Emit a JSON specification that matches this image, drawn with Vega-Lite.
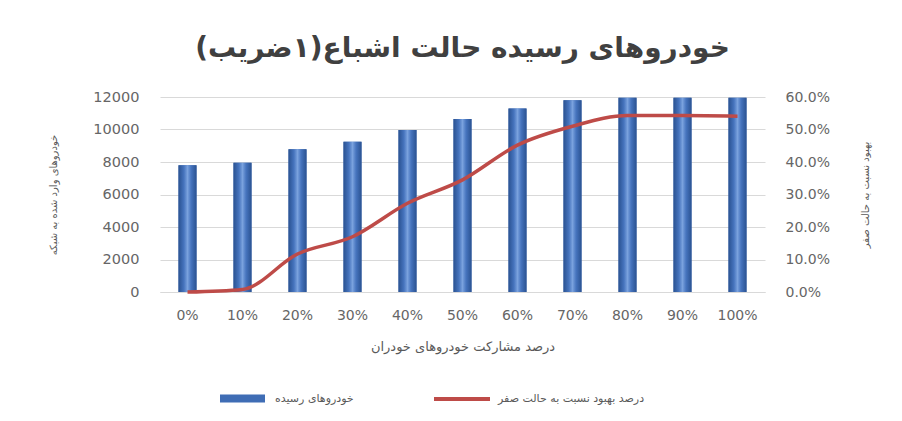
{
  "$schema": "https://vega.github.io/schema/vega-lite/v6.json",
  "width": 605,
  "height": 195,
  "autosize": {"type": "none"},
  "padding": {"left": 160, "top": 97, "right": 137, "bottom": 129},
  "background": "white",
  "title": {
    "text": "خودروهای رسیده حالت اشباع(۱ضریب)",
    "font": "DejaVu Sans",
    "fontSize": 28,
    "fontWeight": "bold",
    "color": "#404040",
    "anchor": "middle",
    "offset": 26
  },
  "data": {
    "values": [
      {"p": "0%", "cars": 7800, "improve": 0.0},
      {"p": "10%", "cars": 7950, "improve": 0.008},
      {"p": "20%", "cars": 8780, "improve": 0.117},
      {"p": "30%", "cars": 9250, "improve": 0.17},
      {"p": "40%", "cars": 9970, "improve": 0.273},
      {"p": "50%", "cars": 10650, "improve": 0.345},
      {"p": "60%", "cars": 11300, "improve": 0.452},
      {"p": "70%", "cars": 11800, "improve": 0.51},
      {"p": "80%", "cars": 11950, "improve": 0.543},
      {"p": "90%", "cars": 11950, "improve": 0.543},
      {"p": "100%", "cars": 11950, "improve": 0.541}
    ]
  },
  "encoding": {
    "x": {
      "field": "p",
      "type": "ordinal",
      "sort": null,
      "scale": {"paddingInner": 0, "paddingOuter": 0},
      "axis": {
        "title": "درصد مشارکت خودروهای خودران",
        "titleFont": "DejaVu Sans",
        "titleFontSize": 13,
        "titleFontWeight": "normal",
        "titleColor": "#595959",
        "titlePadding": 18,
        "labelAngle": 0,
        "labelFont": "DejaVu Sans",
        "labelFontSize": 14,
        "labelColor": "#666666",
        "labelPadding": 16,
        "ticks": false,
        "domainColor": "#D9D9D9",
        "grid": false
      }
    }
  },
  "layer": [
    {
      "mark": {"type": "bar", "size": 18},
      "encoding": {
        "y": {
          "field": "cars",
          "type": "quantitative",
          "scale": {"domain": [0, 12000]},
          "axis": {
            "title": "خودروهای وارد شده به شبکه",
            "titleFont": "DejaVu Sans",
            "titleFontSize": 10,
            "titleFontWeight": "normal",
            "titleColor": "#595959",
            "titleAngle": -90,
            "titlePadding": 34,
            "values": [0, 2000, 4000, 6000, 8000, 10000, 12000],
            "format": "d",
            "labelFont": "DejaVu Sans",
            "labelFontSize": 14.5,
            "labelColor": "#666666",
            "labelPadding": 21,
            "ticks": false,
            "domain": false,
            "grid": true,
            "gridColor": "#D9D9D9",
            "gridWidth": 1
          }
        },
        "fill": {
          "datum": "خودروهای رسیده",
          "scale": {"range": ["#3F6DB5"]},
          "legend": {
            "orient": "none",
            "legendX": 60,
            "legendY": 279,
            "title": null,
            "symbolType": "M-1,-0.18H1V0.18H-1Z",
            "symbolSize": 2025,
            "symbolStrokeWidth": 0,
            "labelFont": "DejaVu Sans",
            "labelFontSize": 11,
            "labelColor": "#595959",
            "labelOffset": 10
          }
        }
      }
    },
    {
      "mark": {
        "type": "bar",
        "size": 18,
        "color": {
          "gradient": "linear",
          "x1": 0, "y1": 0, "x2": 1, "y2": 0,
          "stops": [
            {"offset": 0, "color": "#2A5291"},
            {"offset": 0.3, "color": "#4674BE"},
            {"offset": 0.5, "color": "#7AA2DE"},
            {"offset": 0.7, "color": "#4674BE"},
            {"offset": 1, "color": "#2A5291"}
          ]
        }
      },
      "encoding": {
        "y": {"field": "cars", "type": "quantitative", "scale": {"domain": [0, 12000]}, "axis": null}
      }
    },
    {
      "mark": {"type": "line", "strokeWidth": 3.5, "interpolate": "monotone"},
      "encoding": {
        "y": {
          "field": "improve",
          "type": "quantitative",
          "scale": {"domain": [0, 0.6]},
          "axis": {
            "orient": "right",
            "title": "بهبود نسبت به حالت صفر",
            "titleFont": "DejaVu Sans",
            "titleFontSize": 10,
            "titleFontWeight": "normal",
            "titleColor": "#595959",
            "titleAngle": -90,
            "titlePadding": 41,
            "values": [0, 0.1, 0.2, 0.3, 0.4, 0.5, 0.6],
            "format": ".1%",
            "labelFont": "DejaVu Sans",
            "labelFontSize": 14,
            "labelColor": "#666666",
            "labelPadding": 20,
            "ticks": false,
            "domain": false,
            "grid": false
          }
        },
        "stroke": {
          "datum": "درصد بهبود نسبت به حالت صفر",
          "scale": {"range": ["#BE4B48"]},
          "legend": {
            "orient": "none",
            "legendX": 272,
            "legendY": 272,
            "title": null,
            "symbolType": "stroke",
            "symbolSize": 3136,
            "symbolStrokeWidth": 4,
            "labelFont": "DejaVu Sans",
            "labelFontSize": 11,
            "labelColor": "#595959",
            "labelOffset": 6
          }
        }
      }
    }
  ],
  "resolve": {"scale": {"y": "independent"}},
  "config": {"view": {"stroke": null}}
}
